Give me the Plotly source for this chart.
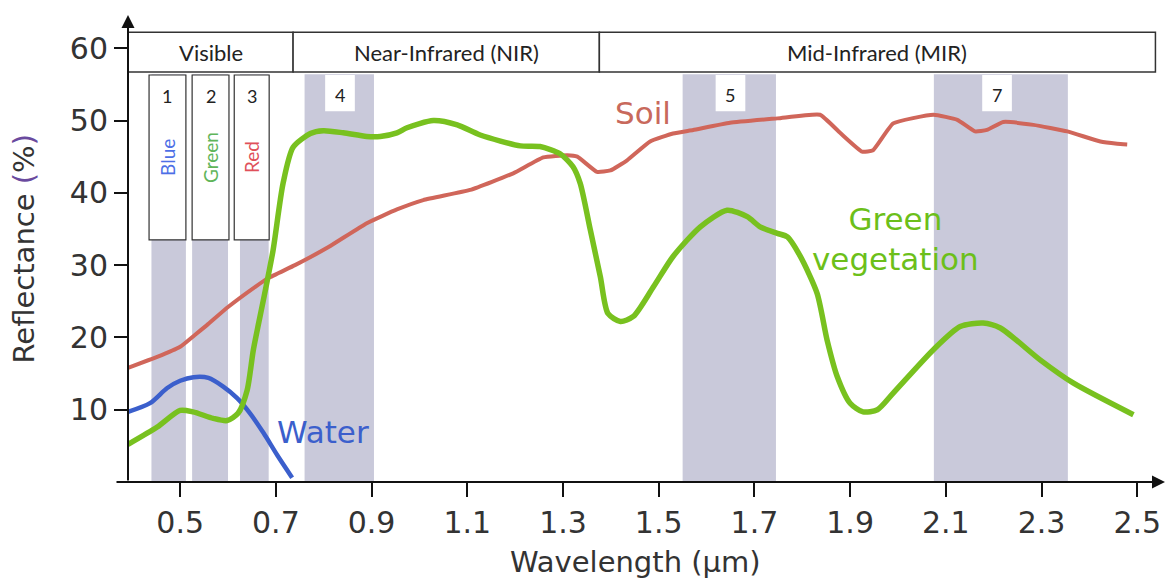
import plotly.graph_objects as go

# ---------------- data ----------------
water_x = [0.391, 0.437, 0.473, 0.50, 0.528, 0.559, 0.59, 0.619, 0.646, 0.674, 0.703, 0.734]
water_y = [9.7, 10.9, 13.0, 14.0, 14.5, 14.4, 13.2, 11.6, 9.5, 6.8, 3.7, 0.6]

veg_x = [0.391, 0.452, 0.50, 0.527, 0.569, 0.598, 0.621, 0.640, 0.653, 0.674, 0.694, 0.715,
         0.736, 0.772, 0.799, 0.841, 0.890, 0.918, 0.953, 0.974, 1.029, 1.079, 1.127, 1.211,
         1.252, 1.294, 1.321, 1.336, 1.357, 1.378, 1.394, 1.420, 1.447, 1.489, 1.530, 1.587,
         1.643, 1.685, 1.712, 1.748, 1.769, 1.796, 1.831, 1.852, 1.873, 1.900, 1.927, 1.957,
         1.990, 2.074, 2.130, 2.178, 2.214, 2.297, 2.366, 2.492]
veg_y = [5.2, 7.6, 9.9, 9.7, 8.8, 8.5, 9.5, 12.7, 18.3, 25.2, 32.0, 41.3,
         46.3, 48.2, 48.6, 48.3, 47.8, 47.8, 48.3, 49.0, 50.0, 49.4, 48.0, 46.5,
         46.4, 45.4, 43.6, 41.3, 34.9, 28.4, 23.3, 22.2, 22.9, 27.0, 31.2, 35.3,
         37.6, 36.7, 35.3, 34.4, 33.9, 31.2, 26.1, 19.6, 14.6, 10.9, 9.7, 10.0,
         12.3, 18.3, 21.5, 22.0, 21.3, 16.9, 13.7, 9.3]

soil_x = [0.391, 0.452, 0.50, 0.53, 0.556, 0.60, 0.657, 0.684, 0.74, 0.81, 0.89, 0.953,
          1.008, 1.106, 1.196, 1.259, 1.309, 1.33, 1.371, 1.399, 1.434, 1.482, 1.53, 1.572,
          1.649, 1.748, 1.837, 1.879, 1.925, 1.948, 1.99, 2.074, 2.124, 2.161, 2.186, 2.22,
          2.283, 2.354, 2.423, 2.458, 2.479]
soil_y = [15.8, 17.3, 18.7, 20.3, 21.7, 24.2, 27.0, 28.2, 30.0, 32.5, 35.8, 37.7,
          39.0, 40.4, 42.7, 44.9, 45.2, 45.0, 42.9, 43.1, 44.5, 47.1, 48.2, 48.7,
          49.7, 50.3, 50.8, 48.3, 45.7, 45.9, 49.6, 50.8, 50.1, 48.5, 48.7, 49.8,
          49.4, 48.5, 47.1, 46.8, 46.7]

band_names = ["1", "2", "3", "4", "5", "7"]
band_start = [0.44, 0.525, 0.625, 0.76, 1.55, 2.075]
band_end = [0.512, 0.60, 0.685, 0.905, 1.745, 2.355]

vis_box_x0 = [0.435, 0.525, 0.613]
vis_box_x1 = [0.512, 0.602, 0.686]
vis_labels = ["Blue", "Green", "Red"]
vis_label_colors = ["#4d6fe6", "#5fb55a", "#e0505a"]

ir_label_x = [0.834, 1.650, 2.207]

regions = ["Visible", "Near-Infrared (NIR)", "Mid-Infrared (MIR)"]
region_bounds = [0.391, 0.736, 1.376, 2.538]

x_ticks = [0.5, 0.7, 0.9, 1.1, 1.3, 1.5, 1.7, 1.9, 2.1, 2.3, 2.5]
y_ticks = [10, 20, 30, 40, 50, 60]

X_RANGE = [0.391, 2.558]
Y_RANGE = [0, 64.6]
BAND_TOP = 56.4
HDR_Y0, HDR_Y1 = 56.7, 62.2
VBOX_Y0, VBOX_Y1 = 33.5, 56.3
IRBOX_Y0, IRBOX_Y1 = 51.3, 56.3

GREEN = "#78c11f"
SOIL = "#d0665a"
WATER = "#3b5fcc"
BANDGRAY = "#c9c9da"

fig = go.Figure()
fig.add_trace(go.Scatter(x=soil_x, y=soil_y, mode="lines",
                         line=dict(color=SOIL, width=4, shape="spline", smoothing=0.4),
                         hoverinfo="skip", showlegend=False))
fig.add_trace(go.Scatter(x=water_x, y=water_y, mode="lines",
                         line=dict(color=WATER, width=4.5, shape="spline", smoothing=0.8),
                         hoverinfo="skip", showlegend=False))
fig.add_trace(go.Scatter(x=veg_x, y=veg_y, mode="lines",
                         line=dict(color=GREEN, width=5.5, shape="spline", smoothing=0.7),
                         hoverinfo="skip", showlegend=False))

shapes = []
for x0, x1 in zip(band_start, band_end):
    shapes.append(dict(type="rect", xref="x", yref="y", x0=x0, x1=x1, y0=0, y1=BAND_TOP,
                       fillcolor=BANDGRAY, line=dict(width=0), layer="below"))
for x0, x1 in zip(vis_box_x0, vis_box_x1):
    shapes.append(dict(type="rect", xref="x", yref="y", x0=x0, x1=x1, y0=VBOX_Y0, y1=VBOX_Y1,
                       fillcolor="white", line=dict(color="#333333", width=1.2), layer="below"))
for cx in ir_label_x:
    shapes.append(dict(type="rect", xref="x", yref="y", x0=cx - 0.031, x1=cx + 0.031,
                       y0=IRBOX_Y0, y1=IRBOX_Y1, fillcolor="white", line=dict(width=0),
                       layer="below"))
for i in range(3):
    shapes.append(dict(type="rect", xref="x", yref="y", x0=region_bounds[i], x1=region_bounds[i + 1],
                       y0=HDR_Y0, y1=HDR_Y1, fillcolor="white",
                       line=dict(color="#333333", width=1.5), layer="below"))

annotations = []
# axis arrows
annotations.append(dict(xref="paper", yref="paper", x=1.0, y=0, ax=-1050, ay=0,
                        axref="pixel", ayref="pixel", showarrow=True, arrowhead=2,
                        arrowsize=1.3, arrowwidth=2, arrowcolor="#111111", text=""))
annotations.append(dict(xref="paper", yref="paper", x=0, y=1.0, ax=0, ay=467,
                        axref="pixel", ayref="pixel", showarrow=True, arrowhead=2,
                        arrowsize=1.3, arrowwidth=2, arrowcolor="#111111", text=""))

hdr_font = dict(family="Lato, Open Sans, sans-serif", size=22, color="#222222")
for i, name in enumerate(regions):
    annotations.append(dict(xref="x", yref="y", x=(region_bounds[i] + region_bounds[i + 1]) / 2,
                            y=(HDR_Y0 + HDR_Y1) / 2, text=name, showarrow=False, font=hdr_font))

num_font = dict(family="Lato, Open Sans, sans-serif", size=18, color="#222222")
for i in range(3):
    cx = (vis_box_x0[i] + vis_box_x1[i]) / 2
    annotations.append(dict(xref="x", yref="y", x=cx, y=53.4, text=band_names[i],
                            showarrow=False, font=num_font))
    annotations.append(dict(xref="x", yref="y", x=cx, y=44.9, text=vis_labels[i], textangle=-90,
                            showarrow=False,
                            font=dict(family="Lato, Open Sans, sans-serif", size=19,
                                      color=vis_label_colors[i])))
for i, cx in enumerate(ir_label_x):
    annotations.append(dict(xref="x", yref="y", x=cx, y=53.6, text=band_names[i + 3],
                            showarrow=False, font=num_font))

lbl_family = "DejaVu Sans, Arial, sans-serif"
annotations.append(dict(xref="x", yref="y", x=0.799, y=6.9, text="Water", showarrow=False,
                        font=dict(family=lbl_family, size=31, color=WATER)))
annotations.append(dict(xref="x", yref="y", x=1.468, y=51.1, text="Soil", showarrow=False,
                        font=dict(family=lbl_family, size=31, color="#c8695c")))
annotations.append(dict(xref="x", yref="y", x=1.995, y=33.6, text="Green<br>vegetation",
                        showarrow=False, font=dict(family=lbl_family, size=31, color="#6cbf1a")))

# axis titles
annotations.append(dict(xref="paper", yref="paper", x=-0.1003, y=0.5, textangle=-90,
                        xanchor="center", yanchor="middle",
                        text='Reflectance <span style="color:#6a4a9e">(</span>%<span style="color:#6a4a9e">)</span>',
                        showarrow=False, font=dict(family=lbl_family, size=29, color="#333333")))
annotations.append(dict(xref="paper", yref="paper", x=0.489, y=-0.171,
                        xanchor="center", yanchor="middle",
                        text="Wavelength (µm)", showarrow=False,
                        font=dict(family=lbl_family, size=29, color="#333333")))

tick_font = dict(family=lbl_family, size=30, color="#333333")
fig.update_layout(
    width=1169, height=582,
    margin=dict(l=128, r=4, t=15, b=100),
    paper_bgcolor="white", plot_bgcolor="white",
    shapes=shapes, annotations=annotations,
    xaxis=dict(range=X_RANGE, tickvals=x_ticks, ticktext=[f"{v:.1f}" for v in x_ticks],
               ticks="outside", ticklen=14, tickwidth=2, tickcolor="#111111",
               showgrid=False, zeroline=False, showline=False, tickfont=tick_font),
    yaxis=dict(range=Y_RANGE, tickvals=y_ticks, ticktext=[str(v) for v in y_ticks],
               ticks="outside", ticklen=13, tickwidth=2, tickcolor="#111111",
               showgrid=False, zeroline=False, showline=False, tickfont=tick_font),
)

fig.write_html("out.html")
